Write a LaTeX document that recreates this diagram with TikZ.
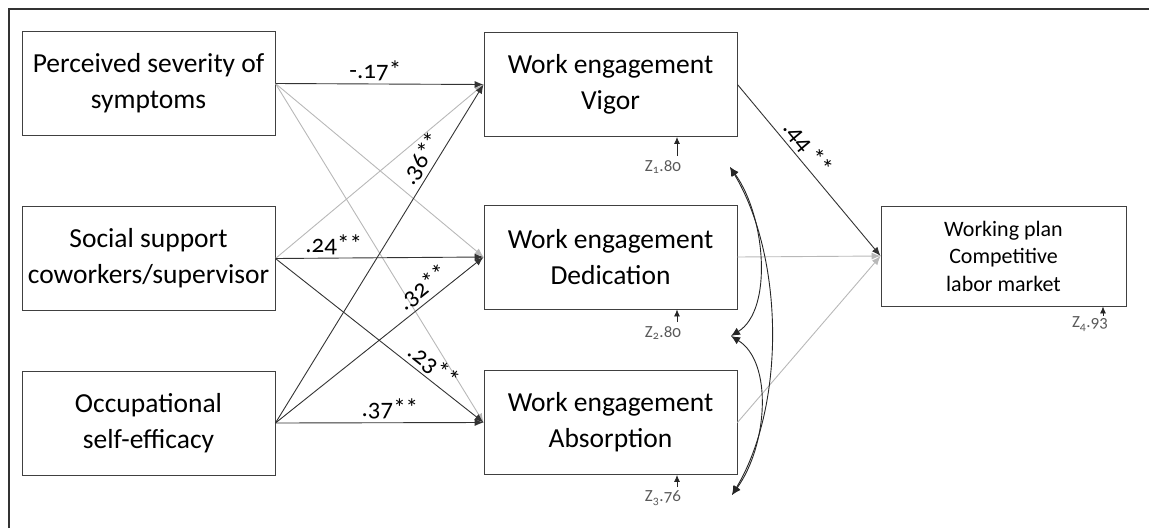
\documentclass[tikz,border=0pt]{standalone}
\usepackage{fontspec}
\setmainfont{Carlito}[Numbers=OldStyle]
\usetikzlibrary{arrows.meta,positioning}

\begin{document}
\begin{tikzpicture}[x=1pt, y=-1pt, font=\fontsize{27.5}{36}\selectfont, >={Latex[length=9pt,width=7pt]}]
\tikzset{
  var/.style ={rectangle, draw=black!75, line width=0.9pt, align=center, minimum width=253pt, minimum height=104pt, inner sep=2pt},
  sig/.style ={->, color=black!80, line width=0.9pt},
  nsig/.style={->, color=black!28, line width=0.9pt},
  coef/.style={font=\fontsize{25}{30}\selectfont, inner sep=3pt, text=black},
  err/.style ={font=\fontsize{17}{18}\selectfont, text=black!65, inner sep=1pt},
  erra/.style={-{Latex[length=7pt,width=6pt]}, color=black!85, line width=0.8pt},
  cov/.style ={{Latex[length=9pt,width=8pt]}-{Latex[length=9pt,width=8pt]}, color=black!85, line width=0.9pt}
}
\useasboundingbox (0,0) rectangle (1149,528);
\draw[line width=1.6pt, black!80] (9,528) -- (9,9) -- (1149,9);
% predictors
\node[var] (sev) at (148.5,83.5) {Perceived severity of\\symptoms};
\node[var] (sup) at (148.5,258.5) {Social support\\coworkers/supervisor};
\node[var] (eff) at (148.5,423) {Occupational\\self-efficacy};
% work engagement
\node[var] (vig) at (610.5,84.5) {Work engagement\\Vigor};
\node[var] (ded) at (610.5,257) {Work engagement\\Dedication};
\node[var] (abs) at (610.5,422.5) {Work engagement\\Absorption};
% outcome
\node[var, minimum width=245pt, minimum height=100pt, font=\fontsize{22}{27.5}\selectfont] (plan) at (1003.5,256) {Working plan\\Competitive\\labor market};
% non-significant paths
\draw[nsig] (sev.east) -- (ded.west);
\draw[nsig] (sev.east) -- (abs.west);
\draw[nsig] (sup.east) -- (vig.west);
\draw[nsig] (ded.east) -- (plan.west);
\draw[nsig] (abs.east) -- (plan.west);
% significant paths
\draw[sig] (sev.east) -- node[coef, above, pos=0.48] {-.17*} (vig.west);
\draw[sig] (sup.east) -- node[coef, above, pos=0.28] {.24**} (ded.west);
\draw[sig] (sup.east) -- node[coef, above, sloped, pos=0.72] {.23**} (abs.west);
\draw[sig] (eff.east) -- node[coef, above, sloped, pos=0.76] {.36**} (vig.west);
\draw[sig] (eff.east) -- node[coef, above, sloped, pos=0.75] {.32**} (ded.west);
\draw[sig] (eff.east) -- node[coef, above, pos=0.55] {.37**} (abs.west);
\draw[sig] (vig.east) -- node[coef, above, sloped, pos=0.42] {.44 **} (plan.west);
% residuals
\node[err] (z1) at (663,167) {Z\textsubscript{1}.80};
\node[err] (z2) at (663,333) {Z\textsubscript{2}.80};
\node[err] (z3) at (663,498) {Z\textsubscript{3}.76};
\node[err] (z4) at (1090,324) {Z\textsubscript{4}.93};
\coordinate (z1a) at (677,156);
\coordinate (z2a) at (677,322);
\coordinate (z3a) at (677,487);
\coordinate (z4a) at (1103,316);
\draw[erra] (z1a) -- (z1a |- vig.south);
\draw[erra] (z2a) -- (z2a |- ded.south);
\draw[erra] (z3a) -- (z3a |- abs.south);
\draw[erra] (z4a) -- (z4a |- plan.south);
% covariances
\coordinate (c1) at (730,167);
\coordinate (c2) at (731,336);
\coordinate (c3) at (732,495);
\draw[cov] (c1) .. controls +(36,50) and +(42,-26) .. (c2);
\draw[cov] (c2) .. controls +(42,26) and +(36,-50) .. (c3);
\draw[cov] (c1) .. controls +(54,90) and +(54,-90) .. (c3);
\end{tikzpicture}
\end{document}
